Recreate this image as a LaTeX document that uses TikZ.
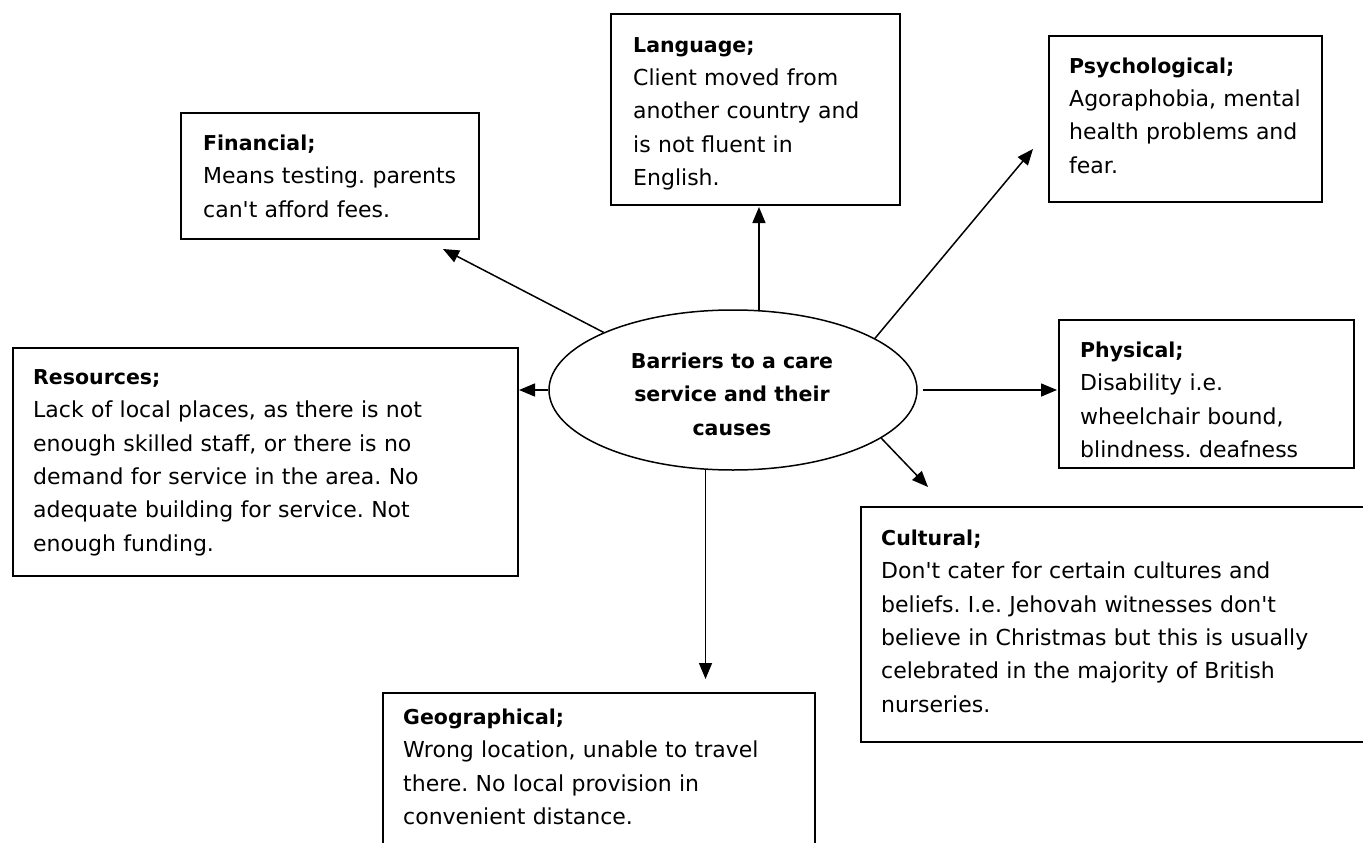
\documentclass[tikz,border=0pt]{standalone}
\usepackage{fontspec}
\newfontfamily\comic{DejaVu Sans}
\usetikzlibrary{shapes.geometric,arrows.meta}
\newcommand\mystrut{\rule{0pt}{23.1pt}}
\newcommand\hd[1]{\textbf{\fontsize{20.5}{33.4}\selectfont #1}}
\begin{document}
\begin{tikzpicture}[x=1pt,y=-1pt,
  box/.style={draw, line width=1.8pt, anchor=north west, inner sep=0pt, outer sep=0pt},
  txt/.style={anchor=north west, inner sep=0pt, align=left, text width=520pt, font=\comic\frenchspacing\fontsize{22}{33.4}\selectfont},
  arr/.style={line width=1.5pt, -{Triangle[length=16pt,width=13pt]}},
]
\clip (0,0) rectangle (1363,843);
\fill[white] (0,0) rectangle (1363,843);

% boxes
\node[box, minimum width=298pt, minimum height=126pt] (fin) at (181,113) {};
\node[box, minimum width=289pt, minimum height=191pt] (lang) at (611,14) {};
\node[box, minimum width=273pt, minimum height=166pt] (psy) at (1049,36) {};
\node[box, minimum width=505pt, minimum height=228pt] (res) at (13,348) {};
\node[box, minimum width=295pt, minimum height=148pt] (phy) at (1059,320) {};
\node[box, minimum width=600pt, minimum height=235pt] (cul) at (861,507) {};
\node[box, minimum width=432pt, minimum height=250pt] (geo) at (383,693) {};

% texts
\node[txt] (finT) at (203,126.9) {\mystrut\hd{Financial;}\\Means testing. parents\\can't afford fees.};
\node[txt] (langT) at (633,28.9) {\mystrut\hd{Language;}\\Client moved from\\another country and\\is not fluent in\\English.};
\node[txt] (psyT) at (1069,49.9) {\mystrut\hd{Psychological;}\\Agoraphobia, mental\\health problems and\\fear.};
\node[txt] (resT) at (33,360.9) {\mystrut\hd{Resources;}\\Lack of local places, as there is not\\enough skilled staff, or there is no\\demand for service in the area. No\\adequate building for service. Not\\enough funding.};
\node[txt] (phyT) at (1080,333.9) {\mystrut\hd{Physical;}\\Disability i.e.\\wheelchair bound,\\blindness. deafness};
\node[txt] (culT) at (881,521.9) {\mystrut\hd{Cultural;}\\Don't cater for certain cultures and\\beliefs. I.e. Jehovah witnesses don't\\believe in Christmas but this is usually\\celebrated in the majority of British\\nurseries.};
\node[txt] (geoT) at (403,700.9) {\mystrut\hd{Geographical;}\\Wrong location, unable to travel\\there. No local provision in\\convenient distance.};

% centre
\node[draw, ellipse, line width=1.5pt, minimum width=368pt, minimum height=160pt, inner sep=0pt] (ell) at (733,390) {};
\node[anchor=north, inner sep=0pt, align=center, font=\comic\fontsize{20.5}{33.4}\selectfont\bfseries] (ellT) at (732,344.9) {\mystrut Barriers to a care\\service and their\\causes};

% tips
\coordinate (finTip) at (443,249);
\coordinate (langTip) at (758,207);
\coordinate (psyTip) at (1033,149);
\coordinate (resTip) at (519,392);
\coordinate (phyTip) at (1057,389);
\coordinate (culTip) at (928,487);
\coordinate (geoTip) at (704,679);

\draw[arr] (ell.156.5) -- (finTip);
\draw[arr] (ell.72.4) -- (ell.72.4 |- langTip);
\draw[arr] (ell.20.9) -- (psyTip);
\draw[arr] (ell.180.7) -- (ell.180.7 -| resTip);
\draw[arr, shorten <=5pt] (ell.0.4) -- (ell.0.4 -| phyTip);
\draw[arr] (ell.-18.8) -- (culTip);
\draw[arr] (ell.-109.9) -- (ell.-109.9 |- geoTip);
\end{tikzpicture}
\end{document}
